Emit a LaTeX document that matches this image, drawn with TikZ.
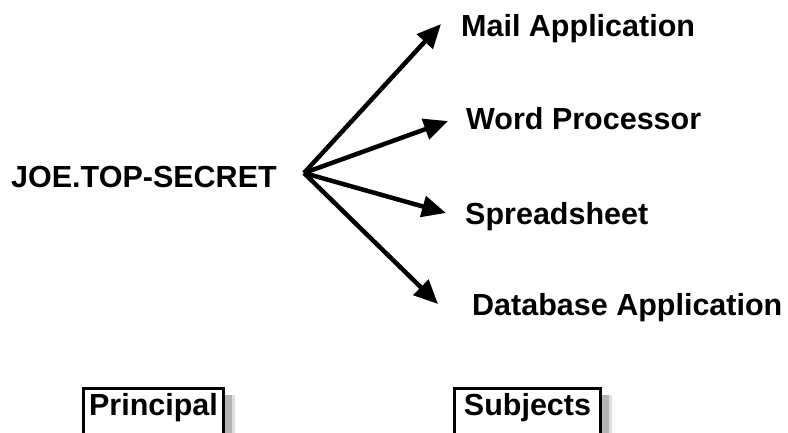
\documentclass[tikz,border=0pt]{standalone}
\usepackage{fontspec}
\setmainfont{Liberation Sans}
\usetikzlibrary{arrows.meta,shadows}
\tikzset{
  lbl/.style={inner sep=0pt, anchor=base west, font=\fontsize{30.5}{36}\selectfont\bfseries},
  boxlbl/.style={draw, line width=3pt, fill=white, inner xsep=0pt, inner ysep=4.5pt,
    text height=22.5pt, text depth=22pt, anchor=north, font=\fontsize{30.5}{36}\selectfont\bfseries,
    drop shadow={shadow xshift=11pt, shadow yshift=-7pt, fill=black!25},
    drop shadow={shadow xshift=8pt, shadow yshift=-7pt, fill=black!45}},
  arr/.style={-{Triangle[length=24pt,width=21pt]}, line width=4.5pt}
}
\begin{document}
\begin{tikzpicture}[x=1pt, y=-1pt]
\useasboundingbox (0, 0) rectangle (788, 432);
\node[lbl] (joe) at (11, 187) {JOE.TOP-SECRET};
\node[lbl] (mail) at (461, 36) {Mail Application};
\node[lbl] (word) at (466, 129) {Word Processor};
\node[lbl] (sheet) at (465, 224) {Spreadsheet};
\node[lbl] (db) at (472, 315) {Database Application};
\node[boxlbl, minimum width=140pt] (principal) at (153.5, 386.5) {Principal};
\node[boxlbl, minimum width=146pt] (subjects) at (527.5, 386.5) {Subjects};
\coordinate (hub) at (304, 173);
\coordinate (tmail) at (441, 24);
\coordinate (tword) at (448, 121);
\coordinate (tsheet) at (446, 213);
\coordinate (tdb) at (438, 304);
\draw[arr] (hub) -- (tmail);
\draw[arr] (hub) -- (tword);
\draw[arr] (hub) -- (tsheet);
\draw[arr] (hub) -- (tdb);
\end{tikzpicture}
\end{document}
